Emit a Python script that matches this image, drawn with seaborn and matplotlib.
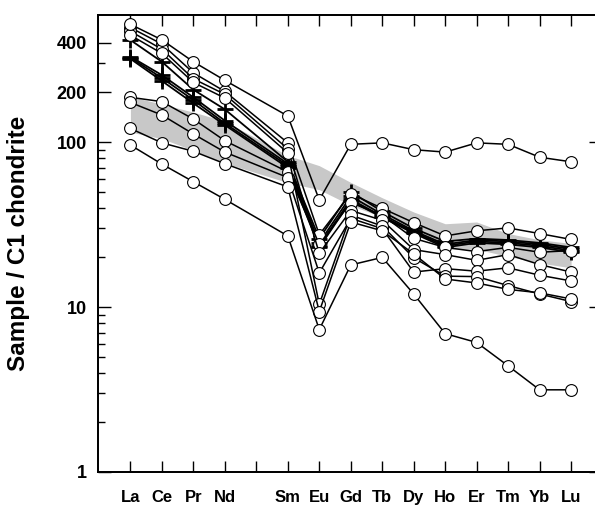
import numpy as np
import pandas as pd
import matplotlib
matplotlib.use('Agg')
import matplotlib.pyplot as plt
import seaborn as sns
from matplotlib.ticker import FixedLocator, NullFormatter

# REE elements (Pm kept as empty slot)
elements = ['La', 'Ce', 'Pr', 'Nd', 'Pm', 'Sm', 'Eu', 'Gd', 'Tb', 'Dy', 'Ho', 'Er', 'Tm', 'Yb', 'Lu']
tick_labels = ['La', 'Ce', 'Pr', 'Nd', '', 'Sm', 'Eu', 'Gd', 'Tb', 'Dy', 'Ho', 'Er', 'Tm', 'Yb', 'Lu']
data_elements = [e for e in elements if e != 'Pm']

# chondrite normalised values, open circle samples
circ_top = [518, 417, 307, 237, 144, 44.6, 97, 99, 90, 87, 99, 97, 81, 76]
circ_a = [495, 393, 263, 203, 99, 27.5, 48.6, 39.7, 32.5, 27.0, 29.0, 30.2, 27.9, 25.7]
circ_b = [187, 176, 138, 102, 66, 24, 43, 36, 26.1, 23.0, 21.7, 23.0, 21.5, 22.0]
circ_c = [470, 366, 242, 195, 91, 21.2, 38.5, 33.6, 22.3, 20.8, 19.2, 20.8, 18.1, 16.3]
circ_d = [174, 146, 112, 87, 61, 16.1, 34.5, 29.9, 16.3, 17.1, 16.5, 17.3, 15.6, 14.4]
circ_e = [445, 345, 230, 185, 86, 10.4, 36.1, 31.0, 19.9, 15.4, 15.3, 13.5, 12.0, 10.8]
circ_f = [121, 99, 88, 74, 53.5, 9.4, 32.8, 29.0, 21.0, 14.8, 14.0, 12.8, 12.2, 11.2]
circ_low = [96, 73.6, 57.5, 45, 27, 7.3, 18, 20, 12, 6.9, 6.1, 4.4, 3.15, 3.15]

# cross samples
cross_1 = [416, 307, 208, 158, 76, 26, 50, 38, 30, 25, 26, 25.5, 24.5, 23]
cross_2 = [330, 255, 187, 135, 74, 24.5, 47, 36.5, 29, 24, 25.5, 25, 24, 22.5]
cross_3 = [325, 245, 180, 130, 72, 23.5, 45, 35.5, 28.5, 23.5, 25, 24.5, 23.5, 22]
cross_4 = [320, 235, 172, 127, 70, 23, 44, 35, 28, 23, 24.5, 24, 23, 21.5]

# grey reference field
band_hi = [189, 170, 152, 134, 83, 72, 57, 46, 37.7, 32, 32.8, 27.9, 25.6, 24.3]
band_lo = [115, 105, 89, 74.7, 56.8, 51.5, 41.4, 35.1, 27.9, 22.6, 22.4, 20.3, 18.5, 17.3]

circles = {'top': circ_top, 'a': circ_a, 'b': circ_b, 'c': circ_c,
           'd': circ_d, 'e': circ_e, 'f': circ_f, 'low': circ_low}
crosses = {'x1': cross_1, 'x2': cross_2, 'x3': cross_3, 'x4': cross_4}

xpos = {e: i for i, e in enumerate(elements)}
xs = [xpos[e] for e in data_elements]

# long table for seaborn
rows = []
for name, vals in circles.items():
    for e, v in zip(data_elements, vals):
        rows.append({'sample': name, 'kind': 'circle', 'x': xpos[e], 'value': v})
for name, vals in crosses.items():
    for e, v in zip(data_elements, vals):
        rows.append({'sample': name, 'kind': 'cross', 'x': xpos[e], 'value': v})
df = pd.DataFrame(rows)

sns.set_style('ticks')
plt.rcParams['font.family'] = ['Liberation Sans', 'DejaVu Sans']
plt.rcParams['font.weight'] = 'bold'
for k in ['text.color', 'axes.labelcolor', 'xtick.color', 'ytick.color', 'axes.edgecolor']:
    plt.rcParams[k] = 'black'

fig = plt.figure(figsize=(5.95, 5.09), dpi=100)
ax = fig.add_axes([98/595, 37/509, 503/595, 457/509])

ax.fill_between(xs, band_lo, band_hi, color='#c8c8c8', lw=0, zorder=1)

cr = df[df.kind == 'cross']
sns.lineplot(data=cr, x='x', y='value', units='sample', estimator=None,
             color='black', linewidth=1.3, ax=ax, zorder=2)
for name, vals in crosses.items():
    ax.plot(xs, vals, linestyle='none', marker='+', markersize=11,
            markeredgewidth=2.0, color='black', zorder=3)

ci = df[df.kind == 'circle']
sns.lineplot(data=ci, x='x', y='value', units='sample', estimator=None,
             color='black', linewidth=1.1, marker='o', markersize=8.5,
             markerfacecolor='white', markeredgecolor='black', markeredgewidth=0.8,
             ax=ax, zorder=4)

ax.set_yscale('log')
ax.set_ylim(1, 590)
ax.set_xlim(-1.03, 14.95)

ax.yaxis.set_major_locator(FixedLocator([1, 10, 100, 200, 400]))
ax.set_yticklabels(['1', '10', '100', '200', '400'])
ax.yaxis.set_minor_locator(FixedLocator([2, 3, 4, 5, 6, 7, 8, 9,
                                         20, 30, 40, 50, 60, 70, 80, 90, 300]))
ax.yaxis.set_minor_formatter(NullFormatter())
ax.set_xticks(range(len(elements)))
ax.set_xticklabels(tick_labels)

ax.tick_params(axis='y', which='major', direction='in', length=9, width=1,
               labelsize=13, pad=8, right=False)
ax.tick_params(axis='y', which='minor', direction='in', length=5, width=1, right=False)
ax.tick_params(axis='x', which='major', direction='in', length=8, width=1,
               labelsize=12, pad=13, top=True)
for lab in ax.get_xticklabels() + ax.get_yticklabels():
    lab.set_fontweight('bold')

# right side ticks only on the decades
ax2 = ax.twinx()
ax2.set_yscale('log')
ax2.set_ylim(ax.get_ylim())
ax2.yaxis.set_major_locator(FixedLocator([1, 10, 100]))
ax2.yaxis.set_minor_locator(FixedLocator([]))
ax2.set_yticklabels([])
ax2.tick_params(axis='y', direction='in', length=9, width=1)
ax2.grid(False)

for a in (ax, ax2):
    for s in a.spines.values():
        s.set_linewidth(1.3)
        s.set_color('black')

ax.set_xlabel('')
ax.set_ylabel('Sample / C1 chondrite', fontsize=17.5, fontweight='bold')
ax.yaxis.set_label_coords(-0.135, 0.5)
if ax.get_legend() is not None:
    ax.get_legend().remove()

fig.savefig('out.png', dpi=100)
